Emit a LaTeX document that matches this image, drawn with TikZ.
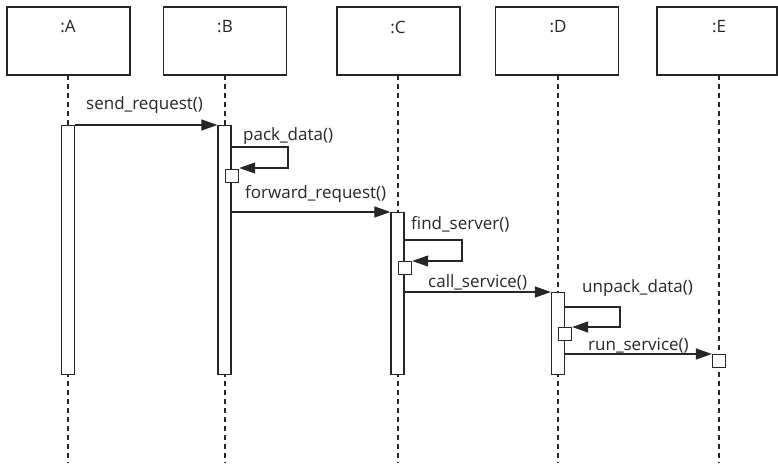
\documentclass[tikz,border=0pt]{standalone}
\usepackage{fontspec}
\setmainfont{Open Sans}
\usetikzlibrary{arrows.meta,calc}
\begin{document}
\begin{tikzpicture}[x=1pt,y=-1pt,
  obj/.style={draw=black!85,line width=1.3pt,fill=white,minimum width=123pt,minimum height=68pt,inner sep=0pt},
  objname/.style={inner sep=0pt,text=black!85,font=\fontsize{17}{19}\selectfont},
  life/.style={draw=black!85,line width=1.2pt,dash pattern=on 5pt off 4pt},
  act/.style={draw=black!85,line width=1.2pt,fill=white,minimum width=13pt,inner sep=0pt},
  selfbox/.style={draw=black!85,line width=1.2pt,fill=white,minimum width=13pt,minimum height=13pt,inner sep=0pt},
  msg/.style={draw=black!85,line width=1.1pt,-{Triangle[length=16pt,width=11pt]}},
  msglbl/.style={inner sep=0pt,anchor=west,text=black!85,font=\fontsize{17}{19}\selectfont}]
\useasboundingbox (0,0) rectangle (778,463);
% objects
\node[obj] (A) at (68.5,41) {};
\node[obj] (B) at (225,41) {};
\node[obj] (C) at (398.5,41) {};
\node[obj] (D) at (557,41) {};
\node[obj,minimum width=120pt] (E) at (717,41) {};
\node[objname] (An) at (68,27) {:A};
\node[objname] (Bn) at (225,27) {:B};
\node[objname] (Cn) at (398,27) {:C};
\node[objname] (Dn) at (558,27) {:D};
\node[objname] (En) at (719,27) {:E};
% lifeline ends
\coordinate (Ae) at (68,463);
\coordinate (Be) at (225,463);
\coordinate (Ce) at (398,463);
\coordinate (De) at (558,463);
\coordinate (Ee) at (719,463);
\draw[life] (68,75) -- (Ae);
\draw[life] (225,75) -- (Be);
\draw[life] (398,75) -- (Ce);
\draw[life] (558,75) -- (De);
\draw[life] (719,75) -- (Ee);
% activations
\node[act,minimum height=249pt,anchor=north] (Aa) at (68,125) {};
\node[act,minimum height=249pt,anchor=north] (Ba) at (224.5,125) {};
\node[act,minimum height=162pt,anchor=north] (Ca) at (397.5,212) {};
\node[act,minimum height=82pt,anchor=north] (Da) at (558,292) {};
% self-call boxes
\node[selfbox,anchor=north west] (Bs) at (225,169) {};
\node[selfbox,anchor=north west] (Cs) at (398,261) {};
\node[selfbox,anchor=north west] (Ds) at (558,327) {};
\node[selfbox,anchor=north] (Es) at (719,354) {};
% messages
\draw[msg] (Aa.north east) -- (Ba.north west);
\draw[msg] (Ba.east |- 0,147) -- (288,147) -- (288,168) -- (Bs.north east |- 0,168);
\draw[msg] (Ba.east |- Ca.north) -- (Ca.north west);
\draw[msg] (Ca.east |- 0,240) -- (462,240) -- (462,261) -- (Cs.north east |- 0,261);
\draw[msg] (Ca.east |- Da.north) -- (Da.north west);
\draw[msg] (Da.east |- 0,307) -- (620,307) -- (620,327) -- (Ds.north east |- 0,327);
\draw[msg] (Da.east |- Es.north) -- (Es.north west);
% labels
\node[msglbl] (m1) at (86,105) {send\_request()};
\node[msglbl] (m2) at (243,136) {pack\_data()};
\node[msglbl] (m3) at (245,194) {forward\_request()};
\node[msglbl] (m4) at (411,224) {find\_server()};
\node[msglbl] (m5) at (428,282) {call\_service()};
\node[msglbl] (m6) at (582,288) {unpack\_data()};
\node[msglbl] (m7) at (588,346) {run\_service()};
\end{tikzpicture}
\end{document}
